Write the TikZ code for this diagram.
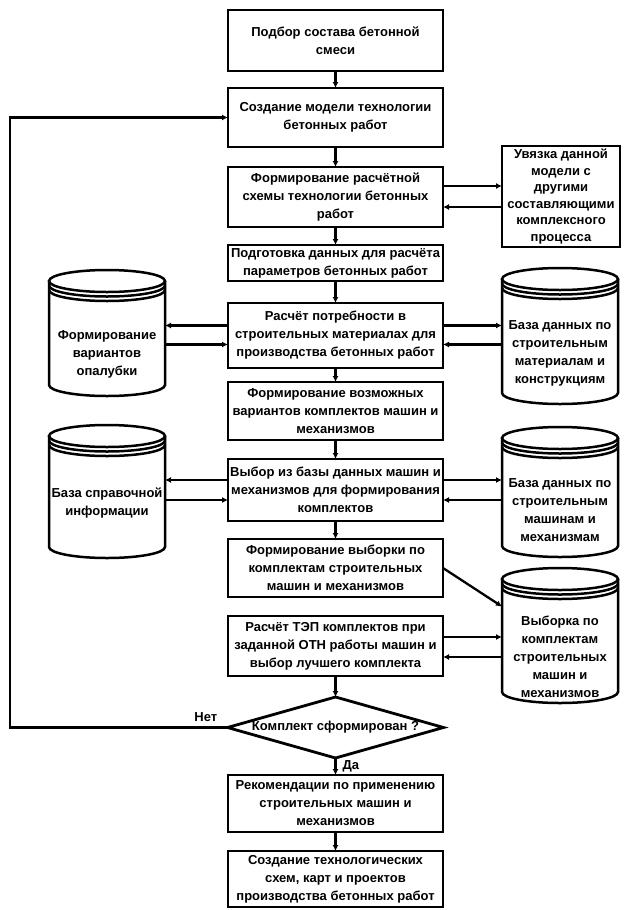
\documentclass[tikz,border=0pt]{standalone}
\usepackage{fontspec}
\setmainfont{Liberation Sans}
\usetikzlibrary{calc,shapes.geometric,arrows.meta}
\tikzset{
  txt/.style={font=\bfseries\fontsize{13}{18}\selectfont, align=center},
  box/.style={txt, draw, line width=2.8pt, minimum width=215pt, inner sep=0pt, outer sep=0pt},
  arr/.style={line width=2.3pt, -{Latex[length=6pt,width=6pt]}},
  cylbox/.style={draw=none, minimum width=116pt, inner sep=0pt, outer sep=0pt},
  cyltext/.style={txt, inner sep=0pt},
  cylline/.style={line width=2.5pt},
  lbl/.style={font=\bfseries\fontsize{13}{15}\selectfont, inner sep=1pt},
}
\newcommand\dbcyl[1]{%
  \draw[cylline] ($(#1.north)+(0,11)$) ellipse[x radius=58pt, y radius=11pt];
  \draw[cylline] ($(#1.north west)+(0,15.5)$) arc[start angle=180, end angle=360, x radius=58pt, y radius=11pt];
  \draw[cylline] ($(#1.north west)+(0,20)$) arc[start angle=180, end angle=360, x radius=58pt, y radius=11pt];
  \draw[cylline] ($(#1.north west)+(0,11)$) -- ($(#1.south west)+(0,-11)$)
     arc[start angle=180, end angle=360, x radius=58pt, y radius=11pt] -- ($(#1.north east)+(0,11)$);
}
\begin{document}
\begin{tikzpicture}[x={(1pt,0)}, y={(0,-1pt)}]
\useasboundingbox (0,0) rectangle (625,910);

% main column
\node[box, minimum height=61pt] (b1) at (335.5,40.5) {Подбор состава бетонной\\смеси};
\node[box, minimum height=59pt] (b2) at (335.5,117.5) {Создание модели технологии\\бетонных работ};
\node[box, minimum height=60pt] (b3) at (335.5,197) {Формирование расчётной\\схемы технологии бетонных\\работ};
\node[box, minimum height=36pt] (b4) at (335.5,263) {Подготовка данных для расчёта\\параметров бетонных работ};
\node[box, minimum height=65pt] (b5) at (335.5,335.5) {Расчёт потребности в\\строительных материалах для\\производства бетонных работ};
\node[box, minimum height=58pt] (b6) at (335.5,411) {Формирование возможных\\вариантов комплектов машин и\\механизмов};
\node[box, minimum height=62pt] (b7) at (335.5,490) {Выбор из базы данных машин и\\механизмов для формирования\\комплектов};
\node[box, minimum height=58pt] (b8) at (335.5,568) {Формирование выборки по\\комплектам строительных\\машин и механизмов};
\node[box, minimum height=60pt] (b9) at (335.5,646) {Расчёт ТЭП комплектов при\\заданной ОТН работы машин и\\выбор лучшего комплекта};
\node[draw, diamond, line width=2.8pt, minimum width=216pt, minimum height=61pt, inner sep=0pt, outer sep=0pt] (dia) at (335.5,727.5) {};
\node[txt, inner sep=0pt] (diat) at (dia.center) {Комплект сформирован ?};
\node[box, minimum height=57pt] (b11) at (335.5,803.5) {Рекомендации по применению\\строительных машин и\\механизмов};
\node[box, minimum height=56pt] (b12) at (335.5,879) {Создание технологических\\схем, карт и проектов\\производства бетонных работ};

% right box
\node[box, minimum width=118pt, minimum height=101pt, font=\bfseries\fontsize{13}{16.5}\selectfont] (uv) at (561,196.5) {Увязка данной\\модели с\\другими\\составляющими\\комплексного\\процесса};

% cylinders
\node[cylbox, minimum height=126pt] (cL1) at (107,333) {};
\dbcyl{cL1}
\node[cyltext] (cL1t) at ($(cL1.center)+(0,21)$) {Формирование\\вариантов\\опалубки};
\node[cylbox, minimum height=133pt] (cL2) at (107,491.5) {};
\dbcyl{cL2}
\node[cyltext] (cL2t) at ($(cL2.center)+(0,12)$) {База справочной\\информации};
\node[cylbox, minimum height=136pt] (cR1) at (560,336) {};
\dbcyl{cR1}
\node[cyltext] (cR1t) at ($(cR1.center)+(0,17)$) {База данных по\\строительным\\материалам и\\конструкциям};
\node[cylbox, minimum height=130pt] (cR2) at (560,492) {};
\dbcyl{cR2}
\node[cyltext] (cR2t) at ($(cR2.center)+(0,18)$) {База данных по\\строительным\\машинам и\\механизмам};
\node[cylbox, minimum height=135pt] (cR3) at (560,635.5) {};
\dbcyl{cR3}
\node[cyltext] (cR3t) at ($(cR3.center)+(0,21)$) {Выборка по\\комплектам\\строительных\\машин и\\механизмов};

% vertical flow
\draw[arr] (b1) -- (b2);
\draw[arr] (b2) -- (b3);
\draw[arr] (b3) -- (b4);
\draw[arr] (b4) -- (b5);
\draw[arr] (b5) -- (b6);
\draw[arr] (b6) -- (b7);
\draw[arr] (b7) -- (b8);
\draw[arr] (b9) -- (dia);
\draw[arr] (dia) -- (b11);
\draw[arr] (b11) -- (b12);

% side connection points
\coordinate (p3a) at ($(b3.east)+(0,-11)$);
\coordinate (p3b) at ($(b3.east)+(0,10)$);
\coordinate (p5la) at ($(b5.west)+(0,-10)$);
\coordinate (p5lb) at ($(b5.west)+(0,9)$);
\coordinate (p5ra) at ($(b5.east)+(0,-10)$);
\coordinate (p5rb) at ($(b5.east)+(0,9)$);
\coordinate (p7la) at ($(b7.west)+(0,-10)$);
\coordinate (p7lb) at ($(b7.west)+(0,10)$);
\coordinate (p7ra) at ($(b7.east)+(0,-10)$);
\coordinate (p7rb) at ($(b7.east)+(0,10)$);
\coordinate (p9a) at ($(b9.east)+(0,-9)$);
\coordinate (p9b) at ($(b9.east)+(0,11)$);
\coordinate (p8t) at ($(cR3.west)+(0,-29)$);

\draw[arr] (p3a) -- (p3a -| uv.west);
\draw[arr] (p3b -| uv.west) -- (p3b);

\draw[arr] (p5la) -- (p5la -| cL1.east);
\draw[arr] (p5lb -| cL1.east) -- (p5lb);
\draw[arr] (p5ra) -- (p5ra -| cR1.west);
\draw[arr] (p5rb -| cR1.west) -- (p5rb);

\draw[arr] (p7la) -- (p7la -| cL2.east);
\draw[arr] (p7lb -| cL2.east) -- (p7lb);
\draw[arr] (p7ra) -- (p7ra -| cR2.west);
\draw[arr] (p7rb -| cR2.west) -- (p7rb);

\draw[arr] (b8.east) -- (p8t);

\draw[arr] (p9a) -- (p9a -| cR3.west);
\draw[arr] (p9b -| cR3.west) -- (p9b);

% feedback loop
\coordinate (loopx) at (10,0);
\draw[arr] (dia.west) -- (dia.west -| loopx) |- (b2.west);
\node[lbl, anchor=south east] (net) at ($(dia.west)+(-9,-5)$) {Нет};
\node[lbl, anchor=west] (da) at ($(dia.south)+(6,8)$) {Да};
\end{tikzpicture}
\end{document}
